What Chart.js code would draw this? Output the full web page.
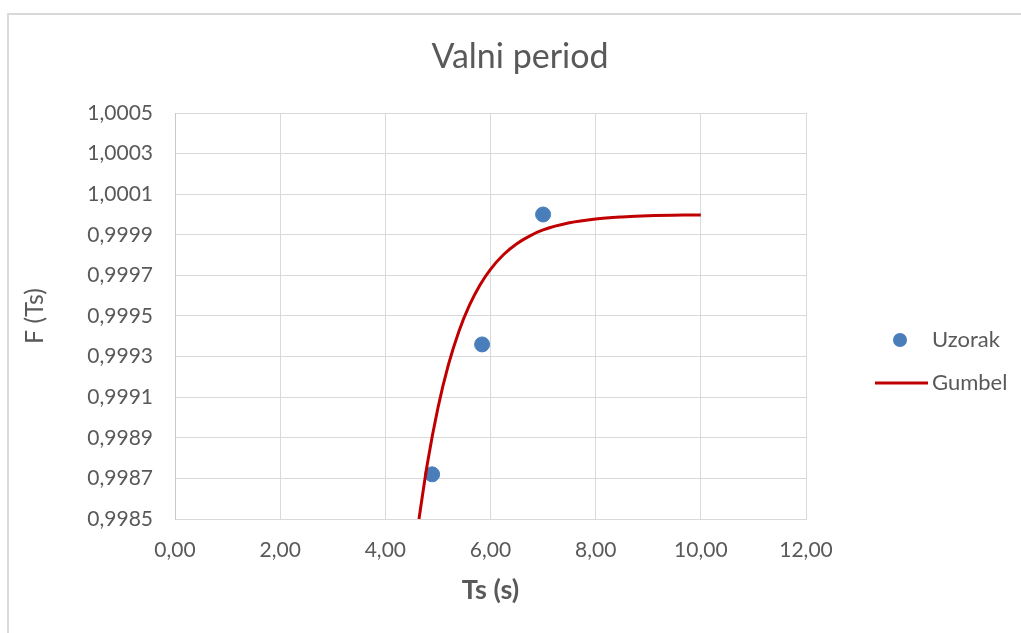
<!DOCTYPE html>
<html>
<head>
<meta charset="utf-8">
<script src="https://cdn.jsdelivr.net/npm/chart.js@4"></script>
<style>
  html, body { margin: 0; padding: 0; background: #fff; }
  #wrap { position: relative; width: 1021px; height: 633px; overflow: hidden; }
  #frame { position: absolute; left: 7px; top: 13px; width: 1100px; height: 700px; border: 2px solid #d9d9d9; box-sizing: border-box; }
  canvas { position: absolute; left: 0; top: 0; }
</style>
</head>
<body>
<div id="wrap">
  <div id="frame"></div>
  <canvas id="chart" width="1021" height="633"></canvas>
</div>
<script>
// Uzorak (sample points)
const sampleTs = [4.89, 5.84, 7.00];
const sampleF = [0.99872, 0.99936, 1.00000];

// Gumbel curve
const gumbelTs = [4.64, 4.8, 5.0, 5.2, 5.4, 5.6, 5.8, 6.0, 6.25, 6.5, 6.75, 7.0, 7.5, 8.0, 8.5, 9.0, 10.0];
const gumbelF = [0.998500, 0.998774, 0.999047, 0.999260, 0.999425, 0.999553, 0.999653, 0.999730, 0.999803,
                 0.999856, 0.999895, 0.999924, 0.999959, 0.999978, 0.999988, 0.999994, 0.999998];

const xTicks = { min: 0, max: 12, step: 2 };
const yTicks = { min: 0.9985, max: 1.0005, step: 0.0002 };

const fontFamily = "Lato, 'Open Sans', 'Liberation Sans', sans-serif";
const textColor = '#595959';
const gridColor = '#d9d9d9';
const blue = '#4a7ebb';
const red = '#c00000';

const toPoints = (xs, ys) => xs.map((x, i) => ({ x: x, y: ys[i] }));

const titleAndLegend = {
    id: 'titleAndLegend',
    afterDraw(chart) {
        const ctx = chart.ctx;
        ctx.save();
        ctx.fillStyle = textColor;
        ctx.font = '34px ' + fontFamily;
        ctx.textAlign = 'center';
        ctx.textBaseline = 'middle';
        ctx.fillText('Valni period', 520, 57);

        ctx.font = '22px ' + fontFamily;
        ctx.textAlign = 'left';
        ctx.fillText('Uzorak', 932, 340);
        ctx.fillText('Gumbel', 932, 383);

        ctx.fillStyle = blue;
        ctx.beginPath();
        ctx.arc(900, 340, 7, 0, Math.PI * 2);
        ctx.fill();

        ctx.strokeStyle = red;
        ctx.lineWidth = 3;
        ctx.beginPath();
        ctx.moveTo(875, 383);
        ctx.lineTo(928, 383);
        ctx.stroke();
        ctx.restore();
    }
};

const ctx = document.getElementById('chart').getContext('2d');
new Chart(ctx, {
    type: 'scatter',
    data: {
        datasets: [{
            label: 'Uzorak',
            data: toPoints(sampleTs, sampleF),
            backgroundColor: blue,
            borderColor: blue,
            pointRadius: 7.5,
            pointHoverRadius: 7.5,
            showLine: false,
            order: 2
        }, {
            label: 'Gumbel',
            data: toPoints(gumbelTs, gumbelF),
            borderColor: red,
            backgroundColor: red,
            borderWidth: 3,
            pointRadius: 0,
            showLine: true,
            cubicInterpolationMode: 'monotone',
            clip: false,
            order: 1
        }]
    },
    options: {
        responsive: false,
        animation: false,
        layout: { padding: { top: 113, right: 215, bottom: 0, left: 0 } },
        plugins: {
            legend: { display: false },
            title: { display: false },
            tooltip: { enabled: false }
        },
        scales: {
            x: {
                type: 'linear',
                min: xTicks.min,
                max: xTicks.max,
                afterFit: scale => { scale.height = 114; },
                grid: { color: gridColor, lineWidth: 1, drawTicks: false },
                border: { color: gridColor, width: 1 },
                ticks: {
                    stepSize: xTicks.step,
                    padding: 19,
                    color: textColor,
                    font: { family: fontFamily, size: 21 },
                    callback: v => v.toFixed(2).replace('.', ',')
                },
                title: {
                    display: true,
                    text: 'Ts (s)',
                    color: textColor,
                    font: { family: fontFamily, size: 27, weight: 'bold' },
                    padding: { top: 0, bottom: 27 }
                }
            },
            y: {
                type: 'linear',
                min: yTicks.min,
                max: yTicks.max,
                afterFit: scale => { scale.width = 175; },
                grid: { color: gridColor, lineWidth: 1, drawTicks: false },
                border: { color: '#c8c8c8', width: 1 },
                ticks: {
                    stepSize: yTicks.step,
                    padding: 22,
                    color: textColor,
                    font: { family: fontFamily, size: 21 },
                    callback: v => v.toFixed(4).replace('.', ',')
                },
                title: {
                    display: true,
                    text: 'F (Ts)',
                    color: textColor,
                    font: { family: fontFamily, size: 25 },
                    padding: { top: 20, bottom: 0 }
                }
            }
        }
    },
    plugins: [titleAndLegend]
});
</script>
</body>
</html>
